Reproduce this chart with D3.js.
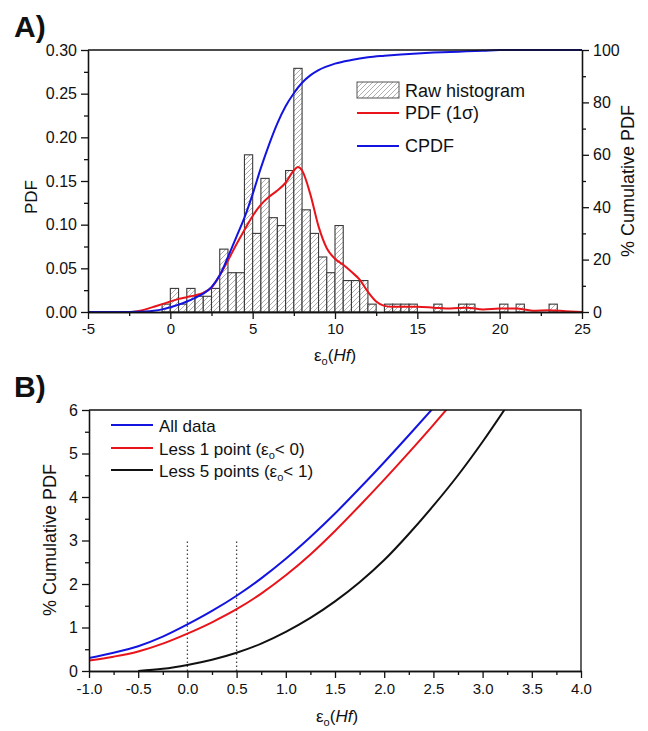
<!DOCTYPE html>
<html>
<head>
<meta charset="utf-8">
<script src="https://cdn.jsdelivr.net/npm/d3@7"></script>
<style>
  body { margin: 0; background: #fff; }
  text { font-family: "Liberation Sans", Arial, sans-serif; fill: #111; }
  .axis path, .axis line { stroke: #111; stroke-width: 1.3; }
</style>
</head>
<body>
<svg width="648" height="731"></svg>
<script>
// ---- panel A data ----
// histogram: left edge of each 0.5-wide bin and its PDF height
var binStart = [-0.5, 0, 0.5, 1, 1.5, 2, 2.5, 3, 3.5, 4, 4.5, 5, 5.5, 6, 6.5, 7, 7.5, 8, 8.5, 9, 9.5,
                10, 10.5, 11, 11.5, 12, 13, 13.5, 14, 14.5, 16, 17.5, 18, 20, 21, 23];
var binPdf = [0.009, 0.027, 0.009, 0.027, 0.018, 0.018, 0.027, 0.072, 0.045, 0.045, 0.18, 0.09, 0.153,
              0.108, 0.099, 0.162, 0.279, 0.117, 0.09, 0.063, 0.045, 0.099, 0.036, 0.036, 0.036, 0.009,
              0.009, 0.009, 0.009, 0.009, 0.009, 0.009, 0.009, 0.009, 0.009, 0.009];

// smoothed PDF (red)
var pdfX = [-5, -2.5, -2, -1.5, -1, -0.5, 0, 0.5, 1, 1.5, 2, 2.5, 3, 3.5, 4, 4.5, 5, 5.5, 6, 6.5, 7, 7.5,
            7.75, 8, 8.5, 9, 9.5, 10, 10.5, 11, 11.5, 12, 12.5, 13, 13.5, 14, 15, 16, 17, 18, 19, 20, 21,
            22, 23, 24, 25];
var pdfY = [0, 0, 0.001, 0.003, 0.006, 0.009, 0.012, 0.015, 0.017, 0.019, 0.022, 0.028, 0.042, 0.059,
            0.077, 0.094, 0.11, 0.123, 0.132, 0.139, 0.148, 0.162, 0.166, 0.162, 0.135, 0.098, 0.073,
            0.061, 0.054, 0.046, 0.037, 0.023, 0.012, 0.007, 0.006, 0.006, 0.006, 0.005, 0.004, 0.005,
            0.003, 0.004, 0.004, 0.0015, 0.002, 0.001, 0];

// cumulative PDF in % (blue)
var cdfX = [-5, -2.5, -2, -1.5, -1, -0.5, 0, 0.5, 1, 1.5, 2, 2.5, 3, 3.5, 4, 4.5, 5, 5.5, 6, 6.5, 7, 7.5,
            8, 8.5, 9, 10, 11, 12, 13, 14, 15, 16, 17, 18, 19, 20, 25];
var cdfY = [0, 0, 0.1, 0.2, 0.5, 1.0, 1.8, 2.8, 4.0, 5.4, 7.0, 9.5, 14, 21, 28.5, 36, 45, 55, 64, 72, 78.5,
            83.5, 87.5, 90.3, 92.3, 94.8, 96.2, 97.2, 97.8, 98.3, 98.7, 99.0, 99.2, 99.5, 99.7, 100, 100];

// ---- panel B data ----
var allX = [-1, -0.75, -0.5, -0.25, 0, 0.25, 0.5, 0.75, 1, 1.25, 1.5, 1.75, 2, 2.25, 2.5];
var allY = [0.30, 0.42, 0.57, 0.79, 1.07, 1.38, 1.73, 2.13, 2.58, 3.08, 3.62, 4.20, 4.80, 5.42, 6.05];
var less1X = [-1, -0.75, -0.5, -0.25, 0, 0.25, 0.5, 0.75, 1, 1.25, 1.5, 1.75, 2, 2.25, 2.5, 2.75];
var less1Y = [0.24, 0.33, 0.45, 0.63, 0.86, 1.12, 1.42, 1.78, 2.20, 2.68, 3.22, 3.80, 4.40, 5.02, 5.66, 6.32];
var less5X = [-0.5, -0.25, 0, 0.25, 0.5, 0.75, 1, 1.25, 1.5, 1.75, 2, 2.25, 2.5, 2.75, 3, 3.25];
var less5Y = [0, 0.05, 0.14, 0.26, 0.42, 0.63, 0.90, 1.22, 1.60, 2.04, 2.55, 3.15, 3.80, 4.50, 5.27, 6.10];

var svg = d3.select("svg");

var defs = svg.append("defs");
var pat = defs.append("pattern").attr("id", "hatch")
    .attr("patternUnits", "userSpaceOnUse").attr("width", 5).attr("height", 5);
pat.append("rect").attr("width", 5).attr("height", 5).attr("fill", "#fff");
pat.append("path").attr("d", "M-1,1 l2,-2 M0,5 l5,-5 M4,6 l2,-2")
   .attr("stroke", "#b0b0b0").attr("stroke-width", 1);

function subEps(sel) {
  // writes "ε" with subscript "o"
  sel.append("tspan").text("ε");
  sel.append("tspan").attr("font-size", "0.65em").attr("dy", 4).text("o");
}

// =============== panel A ===============
var aL = 88, aR = 582, aT = 50, aB = 312;
var xA = d3.scaleLinear().domain([-5, 25]).range([aL, aR]);
var yA = d3.scaleLinear().domain([0, 0.30]).range([aB, aT]);
var yC = d3.scaleLinear().domain([0, 100]).range([aB, aT]);

var gA = svg.append("g");

gA.selectAll(".bar")
  .data(binStart)
  .enter()
  .append("rect")
  .attr("class", "bar")
  .attr("x", function(d) { return xA(d); })
  .attr("y", function(d, i) { return yA(binPdf[i]); })
  .attr("width", function(d) { return xA(d + 0.5) - xA(d); })
  .attr("height", function(d, i) { return aB - yA(binPdf[i]); })
  .attr("fill", "url(#hatch)")
  .attr("stroke", "#3a3a3a")
  .attr("stroke-width", 1.1);

var pdfLine = d3.line()
  .x(function(d, i) { return xA(pdfX[i]); })
  .y(function(d) { return yA(d); })
  .curve(d3.curveMonotoneX);
gA.append("path").datum(pdfY).attr("d", pdfLine)
  .attr("fill", "none").attr("stroke", "#e8141a").attr("stroke-width", 2);

var cdfLine = d3.line()
  .x(function(d, i) { return xA(cdfX[i]); })
  .y(function(d) { return yC(d); })
  .curve(d3.curveMonotoneX);
gA.append("path").datum(cdfY).attr("d", cdfLine)
  .attr("fill", "none").attr("stroke", "#1414e0").attr("stroke-width", 2);

// axes A
gA.append("g").attr("class", "axis")
  .attr("transform", "translate(0," + aB + ")")
  .call(d3.axisBottom(xA).tickValues(d3.range(-2.5, 25, 5)).tickSize(4).tickSizeOuter(0).tickFormat(""));
gA.append("g").attr("class", "axis")
  .attr("transform", "translate(0," + aB + ")")
  .call(d3.axisBottom(xA).tickValues(d3.range(-5, 26, 5)).tickSize(7).tickSizeOuter(0).tickPadding(4)
        .tickFormat(function(d) { return String(d); }))
  .selectAll("text").attr("font-size", 15);

gA.append("g").attr("class", "axis")
  .attr("transform", "translate(" + aL + ",0)")
  .call(d3.axisLeft(yA).tickValues(d3.range(0.025, 0.3, 0.05)).tickSize(4).tickSizeOuter(0).tickFormat(""));
gA.append("g").attr("class", "axis")
  .attr("transform", "translate(" + aL + ",0)")
  .call(d3.axisLeft(yA).tickValues([0, 0.05, 0.1, 0.15, 0.2, 0.25, 0.3]).tickSize(7).tickSizeOuter(0)
        .tickPadding(4).tickFormat(function(d) { return d.toFixed(2); }))
  .selectAll("text").attr("font-size", 16);

gA.append("g").attr("class", "axis")
  .attr("transform", "translate(" + aR + ",0)")
  .call(d3.axisRight(yC).tickValues([10, 30, 50, 70, 90]).tickSize(4).tickSizeOuter(0).tickFormat(""));
gA.append("g").attr("class", "axis")
  .attr("transform", "translate(" + aR + ",0)")
  .call(d3.axisRight(yC).tickValues([0, 20, 40, 60, 80, 100]).tickSize(7).tickSizeOuter(0).tickPadding(4))
  .selectAll("text").attr("font-size", 16);

gA.append("line").attr("x1", aL).attr("x2", aR).attr("y1", aT).attr("y2", aT)
  .attr("stroke", "#111").attr("stroke-width", 1.3);

// titles A
svg.append("text").attr("x", 14).attr("y", 37).attr("font-size", 30).attr("font-weight", "bold").text("A)");
svg.append("text").attr("transform", "translate(37,197) rotate(-90)")
  .attr("text-anchor", "middle").attr("font-size", 17).text("PDF");
svg.append("text").attr("transform", "translate(634,181) rotate(-90)")
  .attr("text-anchor", "middle").attr("font-size", 18).text("% Cumulative PDF");

var xtA = svg.append("text").attr("x", 335).attr("y", 361).attr("text-anchor", "middle").attr("font-size", 17);
subEps(xtA);
xtA.append("tspan").attr("dy", -4).text("(");
xtA.append("tspan").attr("font-style", "italic").text("Hf");
xtA.append("tspan").text(")");

// legend A
var legA = svg.append("g");
legA.append("rect").attr("x", 357).attr("y", 82).attr("width", 42).attr("height", 16)
  .attr("fill", "url(#hatch)").attr("stroke", "#555").attr("stroke-width", 1);
legA.append("text").attr("x", 405).attr("y", 97).attr("font-size", 18).text("Raw histogram");
legA.append("line").attr("x1", 357).attr("x2", 399).attr("y1", 113).attr("y2", 113)
  .attr("stroke", "#e8141a").attr("stroke-width", 2);
legA.append("text").attr("x", 405).attr("y", 119).attr("font-size", 18).text("PDF (1σ)");
legA.append("line").attr("x1", 357).attr("x2", 399).attr("y1", 146).attr("y2", 146)
  .attr("stroke", "#1414e0").attr("stroke-width", 2);
legA.append("text").attr("x", 405).attr("y", 152).attr("font-size", 18).text("CPDF");

// =============== panel B ===============
var bL = 89, bR = 581, bT = 410, bB = 671;
var xB = d3.scaleLinear().domain([-1, 4]).range([bL, bR]);
var yB = d3.scaleLinear().domain([0, 6]).range([bB, bT]);

var gB = svg.append("g");
defs.append("clipPath").attr("id", "clipB")
  .append("rect").attr("x", bL).attr("y", bT).attr("width", bR - bL).attr("height", bB - bT);

// dotted guides at 0.0 and 0.5
gB.selectAll(".guide")
  .data([0, 0.5])
  .enter()
  .append("line")
  .attr("class", "guide")
  .attr("x1", function(d) { return xB(d); })
  .attr("x2", function(d) { return xB(d); })
  .attr("y1", yB(0))
  .attr("y2", yB(3))
  .attr("stroke", "#444")
  .attr("stroke-width", 1.3)
  .attr("stroke-dasharray", "1.5,2.5");

var curves = [
  { xs: allX, ys: allY, color: "#1414e0" },
  { xs: less1X, ys: less1Y, color: "#e8141a" },
  { xs: less5X, ys: less5Y, color: "#111" }
];
curves.forEach(function(c) {
  var line = d3.line()
    .x(function(d, i) { return xB(c.xs[i]); })
    .y(function(d) { return yB(d); })
    .curve(d3.curveMonotoneX);
  gB.append("path").datum(c.ys).attr("d", line)
    .attr("clip-path", "url(#clipB)")
    .attr("fill", "none").attr("stroke", c.color).attr("stroke-width", 2);
});

gB.append("g").attr("class", "axis")
  .attr("transform", "translate(0," + bB + ")")
  .call(d3.axisBottom(xB).tickValues(d3.range(-0.75, 4, 0.5)).tickSize(4).tickSizeOuter(0).tickFormat(""));
gB.append("g").attr("class", "axis")
  .attr("transform", "translate(0," + bB + ")")
  .call(d3.axisBottom(xB).tickValues(d3.range(-1, 4.01, 0.5)).tickSize(7).tickSizeOuter(0)
        .tickPadding(5).tickFormat(function(d) { return d.toFixed(1); }))
  .selectAll("text").attr("font-size", 15);

gB.append("g").attr("class", "axis")
  .attr("transform", "translate(" + bL + ",0)")
  .call(d3.axisLeft(yB).tickValues(d3.range(0.5, 6, 1)).tickSize(4).tickSizeOuter(0).tickFormat(""));
gB.append("g").attr("class", "axis")
  .attr("transform", "translate(" + bL + ",0)")
  .call(d3.axisLeft(yB).tickValues(d3.range(0, 7, 1)).tickSize(7).tickSizeOuter(0).tickPadding(4)
        .tickFormat(function(d) { return String(d); }))
  .selectAll("text").attr("font-size", 16);

gB.append("path")
  .attr("d", "M" + bL + "," + bT + "H" + bR + "V" + bB)
  .attr("fill", "none").attr("stroke", "#111").attr("stroke-width", 1.3);

svg.append("text").attr("x", 14).attr("y", 397).attr("font-size", 30).attr("font-weight", "bold").text("B)");
svg.append("text").attr("transform", "translate(56,540) rotate(-90)")
  .attr("text-anchor", "middle").attr("font-size", 18).text("% Cumulative PDF");

var xtB = svg.append("text").attr("x", 337).attr("y", 722).attr("text-anchor", "middle").attr("font-size", 17);
subEps(xtB);
xtB.append("tspan").attr("dy", -4).text("(");
xtB.append("tspan").attr("font-style", "italic").text("Hf");
xtB.append("tspan").text(")");

// legend B
var legB = [
  { y: 425, color: "#1414e0", label: "All data" },
  { y: 448, color: "#e8141a", label: "Less 1 point (", tail: "< 0)" },
  { y: 470, color: "#111", label: "Less 5 points (", tail: "< 1)" }
];
legB.forEach(function(d) {
  svg.append("line").attr("x1", 111).attr("x2", 153).attr("y1", d.y).attr("y2", d.y)
    .attr("stroke", d.color).attr("stroke-width", 2);
  var t = svg.append("text").attr("x", 159).attr("y", d.y + 7).attr("font-size", 17);
  t.append("tspan").text(d.label);
  if (d.tail) {
    subEps(t);
    t.append("tspan").attr("dy", -4).text(d.tail);
  }
});
</script>
</body>
</html>
